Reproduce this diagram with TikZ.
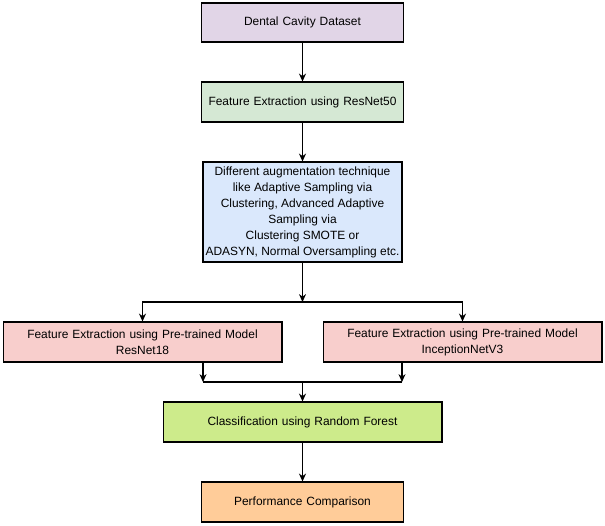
\documentclass[tikz,border=0pt]{standalone}
\usepackage{fontspec}
\setmainfont{Liberation Sans}
\usetikzlibrary{arrows.meta}
\definecolor{lavender}{HTML}{E1D5E7}
\definecolor{mint}{HTML}{D5E8D4}
\definecolor{skyblue}{HTML}{DAE8FC}
\definecolor{rosepink}{HTML}{F8CECC}
\definecolor{limegreen}{HTML}{CDEB8B}
\definecolor{peach}{HTML}{FFCC99}

\tikzset{
  box/.style={draw=black, line width=0.6pt, align=center, inner sep=2pt,
    font=\fontsize{6.8}{9.1}\selectfont, minimum height=0.8cm},
  narrowbox/.style={box, minimum width=3.98cm, text width=3.9cm},
  widebox/.style={box, minimum width=5.58cm, text width=5.4cm},
  flow/.style={-{Stealth[length=4.5pt,width=4pt]}, line width=0.6pt},
  link/.style={line width=0.6pt}
}

\begin{document}
\begin{tikzpicture}[x=0.02cm, y=-0.02cm]
  \fill[white] (0,0) rectangle (605,525);

  \node[narrowbox, fill=lavender, minimum height=0.78cm] (dataset) at (302.5,22.5) {Dental Cavity Dataset};
  \node[narrowbox, fill=mint] (resnet50) at (302.5,102) {Feature Extraction using ResNet50};
  \node[box, fill=skyblue, minimum width=3.98cm, minimum height=2cm, inner xsep=0.5pt] (augment) at (302.5,212)
    {Different augmentation technique\\like Adaptive Sampling via\\Clustering, Advanced Adaptive\\Sampling via\\Clustering SMOTE or\\ADASYN, Normal Oversampling etc.};

  \node[widebox, fill=rosepink] (resnet18) at (142.5,342) {Feature Extraction using Pre-trained Model\\ResNet18};
  \node[widebox, fill=rosepink] (inception) at (462.5,342) {Feature Extraction using Pre-trained Model\\InceptionNetV3};

  \node[widebox, fill=limegreen] (forest) at (302.5,422) {Classification using Random Forest};
  \node[narrowbox, fill=peach] (compare) at (302.5,502) {Performance Comparison};

  % split and join points
  \coordinate (split) at (302.5,302);
  \coordinate (joinL) at (203,382);
  \coordinate (joinR) at (402,382);
  \coordinate (join) at (302.5,382);

  \draw[flow] (dataset) -- (resnet50);
  \draw[flow] (resnet50) -- (augment);
  \draw[flow] (augment) -- (split);
  \draw[flow] (split) -| (resnet18);
  \draw[flow] (split) -| (inception);

  \draw[flow] (resnet18.south -| joinL) -- (joinL);
  \draw[flow] (inception.south -| joinR) -- (joinR);
  \draw[link] (joinL) -- (joinR);
  \draw[flow] (join) -- (forest);
  \draw[flow] (forest) -- (compare);
\end{tikzpicture}
\end{document}
